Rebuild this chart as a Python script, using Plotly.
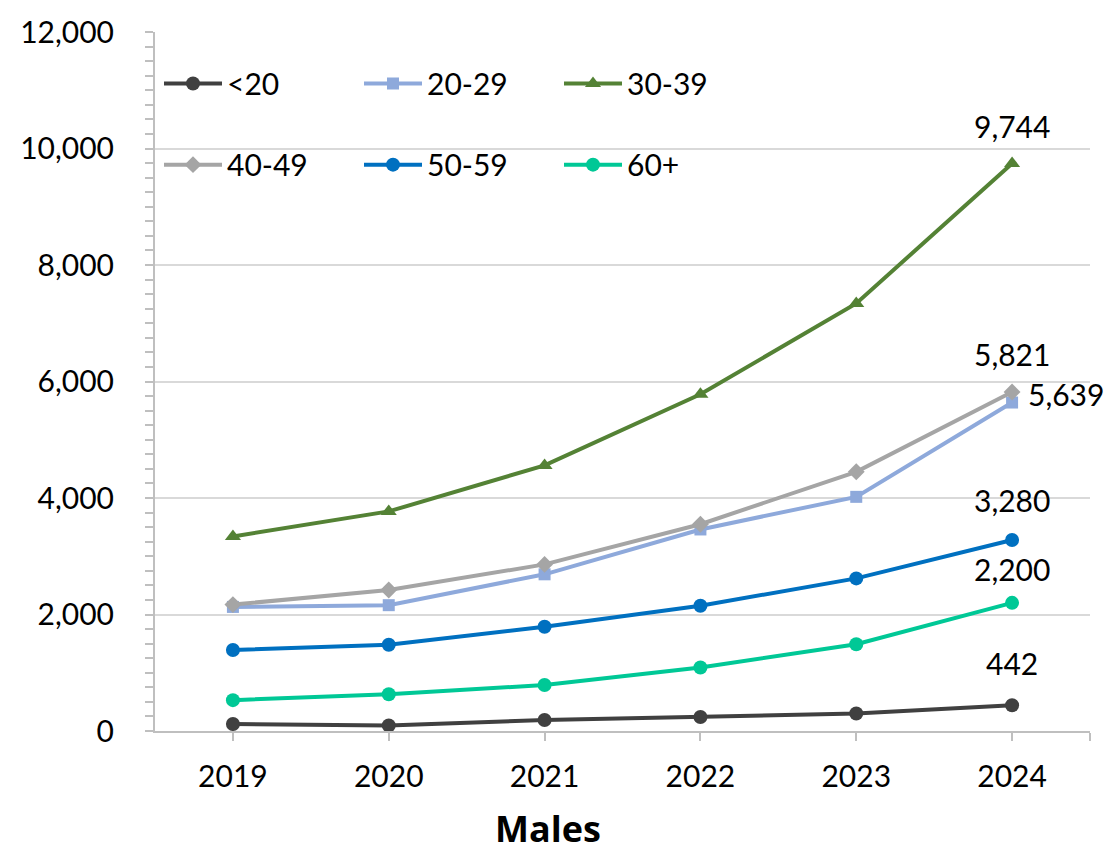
import plotly.graph_objects as go

years = [2019, 2020, 2021, 2022, 2023, 2024]
series_names = ["<20", "20-29", "30-39", "40-49", "50-59", "60+"]
v_lt20 = [120, 95, 190, 240, 300, 442]
v_20_29 = [2130, 2160, 2690, 3460, 4020, 5639]
v_30_39 = [3340, 3770, 4560, 5780, 7340, 9744]
v_40_49 = [2170, 2420, 2860, 3550, 4450, 5821]
v_50_59 = [1390, 1480, 1790, 2150, 2620, 3280]
v_60p = [530, 630, 790, 1090, 1490, 2200]
y_ticks = [0, 2000, 4000, 6000, 8000, 10000, 12000]

values = [v_lt20, v_20_29, v_30_39, v_40_49, v_50_59, v_60p]
colors = ["#404040", "#8EA9DB", "#548235", "#A5A5A5", "#0070C0", "#00C896"]
symbols = ["circle", "square", "triangle-up", "diamond", "circle", "circle"]
msizes = [14, 12, 14, 13, 14, 14]
legends = ["legend", "legend", "legend", "legend2", "legend2", "legend2"]

FONT = "Lato"
FS = 30
fig = go.Figure()
for name, v, c, s, ms, lg in zip(series_names, values, colors, symbols, msizes, legends):
    fig.add_trace(go.Scatter(
        x=years, y=v, name=name, mode="lines+markers",
        line=dict(color=c, width=4),
        marker=dict(symbol=s, size=ms, color=c),
        legend=lg,
    ))

# labels on last points: (series index, xshift, yshift, xanchor)
label_cfg = [(2, 0, 37, "center"), (3, 0, 38, "center"), (1, 14, 9, "left"),
             (4, 0, 40, "center"), (5, 0, 34, "center"), (0, 0, 42, "center")]
for idx, xs, ys, xa in label_cfg:
    val = values[idx][-1]
    fig.add_annotation(x=years[-1], y=val, text=f"{val:,}", showarrow=False,
                       xshift=xs, yshift=ys, xanchor=xa, yanchor="middle",
                       font=dict(family=FONT, size=FS, color="#000000"))

fig.add_annotation(x=(548 - 155) / 935, y=(731 - 829) / 706, xref="paper", yref="paper",
                   text="<b>Males</b>", showarrow=False, xanchor="center", yanchor="middle",
                   font=dict(family="Open Sans", size=36, color="#000000"))

legend_common = dict(orientation="h", xanchor="left", yanchor="middle",
                     font=dict(family=FONT, size=FS, color="#000000"),
                     bgcolor="rgba(0,0,0,0)", itemwidth=58,
                     entrywidth=127, entrywidthmode="pixels", itemclick=False)

fig.update_layout(
    width=1110, height=854,
    margin=dict(l=155, r=20, t=25, b=123),
    paper_bgcolor="white", plot_bgcolor="white",
    font=dict(family=FONT, size=FS, color="#000000"),
    showlegend=True,
    legend=dict(x=4 / 935, y=(731 - 77) / 706, **legend_common),
    legend2=dict(x=4 / 935, y=(731 - 159) / 706, **legend_common),
    xaxis=dict(
        range=[2018.5, 2024.5],
        tickvals=years + [2024.5], ticktext=[str(y) for y in years] + [""],
        ticks="outside", ticklen=8, tickwidth=2, tickcolor="#BFBFBF",
        showline=True, linecolor="#BFBFBF", linewidth=2,
        showgrid=False, zeroline=False,
        tickfont=dict(family=FONT, size=FS), ticklabelstandoff=10,
    ),
    yaxis=dict(
        range=[0, 12000], tickvals=y_ticks,
        ticktext=[f"{t:,}" for t in y_ticks],
        ticks="outside", ticklen=8, tickwidth=2, tickcolor="#BFBFBF",
        showline=True, linecolor="#BFBFBF", linewidth=2,
        showgrid=True, gridcolor="#D9D9D9", gridwidth=1.5, zeroline=False,
        minor=dict(dtick=250, ticks="outside", ticklen=8, tickwidth=1.5,
                   tickcolor="#BFBFBF", showgrid=False),
        tickfont=dict(family=FONT, size=FS), ticklabelstandoff=25,
    ),
)

fig.write_html("out.html")
